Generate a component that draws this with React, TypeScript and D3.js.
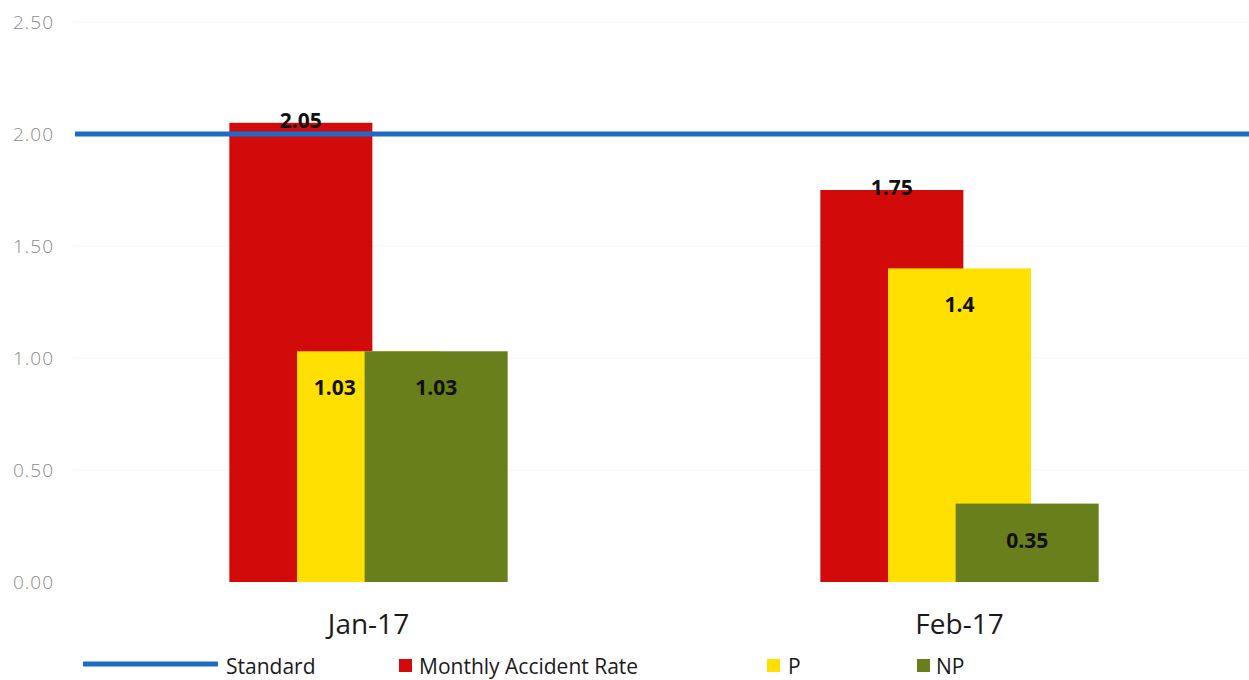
import React from 'react'
import * as d3 from 'd3'

// chart values
const categories = ['Jan-17', 'Feb-17']
const monthlyRate = [2.05, 1.75]
const pValues = [1.03, 1.4]
const npValues = [1.03, 0.35]
const standardValues = [2.0, 2.0]
const yTicks = [0, 0.5, 1.0, 1.5, 2.0, 2.5]

const COLORS = {
  standard: '#1c6bc8',
  rate: '#d20a0a',
  p: '#ffe000',
  np: '#687f1c',
}

const FONT = '"Open Sans", "DejaVu Sans", sans-serif'

const WIDTH = 1249
const HEIGHT = 680

export default function App() {
  const margin = { top: 22, bottom: 98, left: 73, right: -6 }

  const x = d3.scaleBand<string>()
    .domain(categories)
    .range([margin.left, WIDTH - margin.right])
    .padding(0)

  const y = d3.scaleLinear()
    .domain([0, 2.5])
    .range([HEIGHT - margin.bottom, margin.top])

  // Excel-like clustered bars with overlap
  const barWidth = x.bandwidth() * 0.242
  const barStep = barWidth * 0.473

  const series = [
    { key: 'Monthly Accident Rate', values: monthlyRate, color: COLORS.rate, inside: false },
    { key: 'P', values: pValues, color: COLORS.p, inside: true },
    { key: 'NP', values: npValues, color: COLORS.np, inside: true },
  ]

  const barX = (ci: number, si: number) => {
    const center = (x(categories[ci]) ?? 0) + x.bandwidth() / 2
    return center + (si - 1) * barStep - barWidth / 2
  }

  const standardLine = d3.line<number>()
    .x((_, i) => (i === 0 ? margin.left + 2 : WIDTH))
    .y(d => y(d))

  return (
    <div style={{ position: 'absolute', left: 0, top: 0 }}>
      <svg width={WIDTH} height={HEIGHT} style={{ display: 'block', background: '#fff' }}>
        {/* faint gridlines */}
        {yTicks.slice(1).map(t => (
          <line key={t} x1={margin.left} x2={WIDTH} y1={y(t)} y2={y(t)} stroke="#f5f5f5" strokeWidth={1} />
        ))}

        {/* y tick labels */}
        {yTicks.map(t => (
          <text key={t} x={54} y={y(t) + 7} textAnchor="end" fontFamily={FONT} fontSize={19}
            fontWeight={300} letterSpacing={1} fill="#8a8a8a">
            {d3.format('.2f')(t)}
          </text>
        ))}

        {/* bars */}
        {series.map((s, si) =>
          s.values.map((v, ci) => (
            <rect key={s.key + ci} x={barX(ci, si)} y={y(v)} width={barWidth}
              height={y(0) - y(v)} fill={s.color} />
          ))
        )}

        {/* standard line */}
        <path d={standardLine(standardValues) ?? ''} fill="none" stroke={COLORS.standard} strokeWidth={5} />

        {/* data labels */}
        {series.map((s, si) =>
          s.values.map((v, ci) => {
            let lx = barX(ci, si) + barWidth / 2
            const next = series[si + 1]
            if (s.inside && next && next.values[ci] >= v) {
              // label sits in the part not covered by the next bar
              lx = (barX(ci, si) + barX(ci, si + 1)) / 2 + 4
            }
            const ly = s.inside ? y(v) + 44 : y(v) + 5
            return (
              <text key={'l' + s.key + ci} x={lx} y={ly} textAnchor="middle" fontFamily={FONT}
                fontSize={21} fontWeight={700} fill="#111">
                {String(v)}
              </text>
            )
          })
        )}

        {/* category labels */}
        {categories.map(c => (
          <text key={c} x={(x(c) ?? 0) + x.bandwidth() / 2} y={634} textAnchor="middle"
            fontFamily={FONT} fontSize={28} fill="#1a1a1a">
            {c}
          </text>
        ))}

        {/* legend */}
        <g fontFamily={FONT} fontSize={21} fill="#1a1a1a">
          <line x1={83} x2={218} y1={664} y2={664} stroke={COLORS.standard} strokeWidth={5} />
          <text x={226} y={674}>Standard</text>
          <rect x={399} y={659} width={13} height={13} fill={COLORS.rate} />
          <text x={419} y={674}>Monthly Accident Rate</text>
          <rect x={767} y={659} width={13} height={13} fill={COLORS.p} />
          <text x={788} y={674}>P</text>
          <rect x={917} y={659} width={13} height={13} fill={COLORS.np} />
          <text x={936} y={674}>NP</text>
        </g>
      </svg>
    </div>
  )
}
